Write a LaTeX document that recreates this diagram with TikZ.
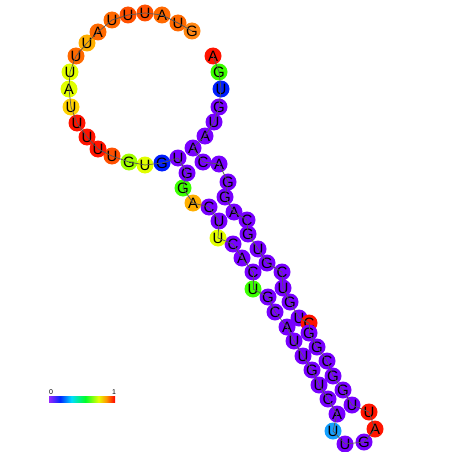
\documentclass[tikz,border=0pt]{standalone}
\usepackage{fontspec}
\setmainfont{Liberation Sans}
\usepackage{xcolor}
\usepackage{tikz}

\definecolor{pur}{RGB}{120,0,255}
\definecolor{rd}{RGB}{255,20,0}
\definecolor{org}{RGB}{255,105,0}
\definecolor{dorg}{RGB}{255,80,0}
\definecolor{lorg}{RGB}{255,135,20}
\definecolor{amb}{RGB}{255,175,0}
\definecolor{gold}{RGB}{255,210,0}
\definecolor{ylw}{RGB}{225,255,0}
\definecolor{lime}{RGB}{160,255,0}
\definecolor{grn}{RGB}{60,255,0}
\definecolor{blu}{RGB}{0,30,255}
\definecolor{sky}{RGB}{20,160,255}

%% colour scale stops
\definecolor{barA}{RGB}{150,40,255}
\definecolor{barB}{RGB}{0,40,255}
\definecolor{barC}{RGB}{0,220,255}
\definecolor{barD}{RGB}{0,255,40}
\definecolor{barE}{RGB}{230,255,0}
\definecolor{barF}{RGB}{255,150,0}
\definecolor{barG}{RGB}{255,0,0}
\pgfdeclarehorizontalshading{hue}{100bp}{color(0bp)=(barA); color(25bp)=(barA);
	color(33.5bp)=(barB); color(42bp)=(barC); color(52.5bp)=(barD);
	color(62.5bp)=(barE); color(68.5bp)=(barF); color(75bp)=(barG); color(100bp)=(barG)}

\begin{document}
\begin{tikzpicture}[x=1pt, y=-1pt,
	base/.style={
		circle, minimum size=17pt, inner sep=0pt,
		font=\fontsize{15}{15}\selectfont
	},
	backbone/.style={line width=0.7pt, draw=black!65},
	barlabel/.style={font=\fontsize{7}{8}\selectfont, inner sep=0pt}
	]
	
	\path[use as bounding box] (0,0) rectangle (452,452);
	
	%% -- bases, 5' end at the top right
	\foreach \x/\y/\l/\c [count=\i] in {
		213/56/A/rd, 219/72/G/grn, 221/89/U/blu, 219/107/G/pur, 214/122/U/pur,
		205/136/A/pur, 193/148/A/pur, 203/162/C/pur, 219/164/A/pur, 228/182/G/pur,
		225/197/G/pur, 234/212/A/pur, 247/220/C/pur, 248/234/G/pur, 258/249/U/pur,
		267/263/G/pur, 282/272/C/pur, 283/288/U/pur, 290/302/G/pur, 299/318/U/pur,
		309/323/C/rd, 309/333/G/pur, 317/347/G/pur, 327/361/C/pur, 333/376/G/pur,
		343/390/G/pur, 352/405/U/pur, 369/412/U/rd, 375/429/A/rd, 364/442/G/pur,
		345/444/U/pur, 333/431/U/sky, 337/414/A/pur, 328/399/C/pur, 319/385/U/pur,
		312/370/G/pur, 303/356/U/pur, 294/341/U/pur, 287/327/A/pur, 275/312/C/pur,
		268/297/G/pur, 253/289/U/grn, 253/272/C/pur, 242/258/A/pur, 233/244/C/pur,
		218/238/U/ylw, 219/221/U/pur, 209/207/C/pur, 193/203/A/amb, 183/188/G/grn,
		187/173/G/pur, 178/158/U/pur, 162/163/G/blu, 145/165/U/ylw, 129/162/G/lime,
		112/156/U/dorg, 98/149/U/rd, 87/137/U/rd, 77/123/U/rd, 71/107/U/gold,
		69/89/A/ylw, 70/72/U/ylw, 76/56/U/org, 87/43/U/amb, 98/32/A/org,
		112/20/U/org, 128/15/U/dorg, 145/13/U/dorg, 162/15/A/org, 178/23/U/org,
		192/31/G/lorg}
	\node[base, fill=\c] (b\i) at (\x,\y) {\l};
	
	%% -- backbone
	\foreach \i [evaluate=\i as \j using int(\i+1)] in {1,...,70}
	\draw[backbone] (b\i.center) -- (b\j.center);
	
	%% -- colour scale
	\shade[shading=hue] (49,396) rectangle (115,402);
	\node[barlabel] (lo) at (51,392) {0};
	\node[barlabel] (hi) at (114,392) {1};
	
\end{tikzpicture}
\end{document}
